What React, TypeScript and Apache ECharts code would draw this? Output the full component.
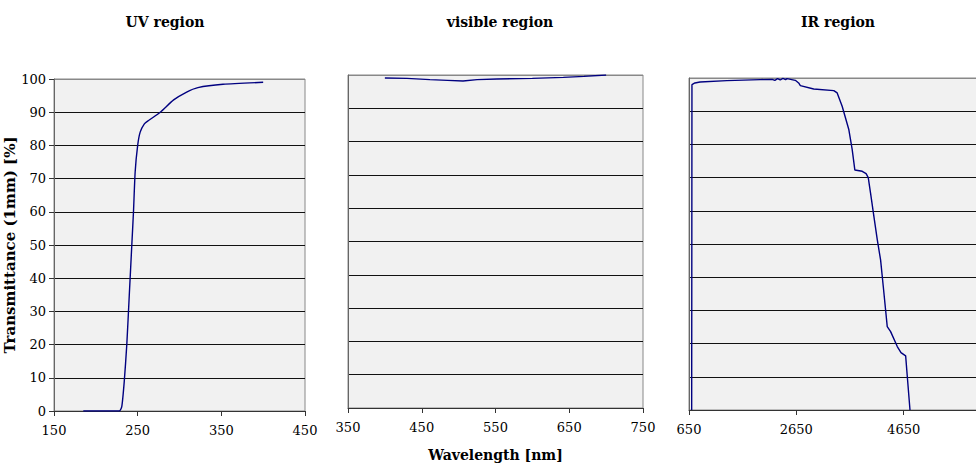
import React, { useEffect, useRef } from "react";
import * as echarts from "echarts";

const panelTitles = ["UV region", "visible region", "IR region"];
const yAxisName = "Transmittance (1mm) [%]";
const xAxisName = "Wavelength [nm]";

// [wavelength nm, transmittance %]
const uvData: [number, number][] = [
  [185, 0], [228, 0], [231, 1.3], [234, 9], [237, 20], [240, 35], [243, 50],
  [245, 60], [247, 72], [250, 80], [253, 84], [258, 86.5], [263, 87.5],
  [277, 90], [293, 93.7], [308, 96], [322, 97.4], [352, 98.4], [400, 99],
];

const visData: [number, number][] = [
  [400, 99.1], [430, 99.0], [461, 98.6], [485, 98.4], [506, 98.2], [525, 98.6],
  [552, 98.8], [600, 99.0], [642, 99.3], [670, 99.6], [700, 100],
];

const irData: [number, number][] = [
  [700, 0], [705, 98], [760, 98.5], [856, 98.8], [1355, 99.2], [1977, 99.5],
  [2200, 99.6], [2250, 99.3], [2300, 99.8], [2350, 99.4], [2400, 99.9],
  [2450, 99.5], [2476, 99.8], [2631, 99.3], [2693, 98.5], [2725, 97.7],
  [2974, 96.7], [3348, 96.2], [3411, 95.5], [3504, 91.5], [3629, 84.4],
  [3691, 78.4], [3740, 72.3], [3878, 71.9], [3950, 71.2], [3990, 70], [4033, 65.3],
  [4095, 58.3], [4158, 51.3], [4220, 45.2], [4270, 37.2], [4313, 30.2],
  [4344, 25.1], [4407, 23.6], [4531, 19.1], [4600, 17.3], [4687, 16.3],
  [4718, 10], [4768, 0],
];

const xRanges = [
  { min: 150, max: 450, interval: 100 },
  { min: 350, max: 750, interval: 100 },
  { min: 650, max: 6650, interval: 2000 },
];

const FONT = "'DejaVu Serif', 'Liberation Serif', serif";

export default function App() {
  const ref = useRef<HTMLDivElement>(null);
  useEffect(() => {
    if (!ref.current) return;
    const chart = echarts.init(ref.current, undefined, { renderer: "svg" });
    const grids = [
      { left: 54, top: 79, width: 251, height: 332 },
      { left: 348, top: 75, width: 295, height: 333 },
      { left: 689, top: 78, width: 322, height: 332 },
    ];
    const splitColors = ["#666", "#111", "#111", "#111", "#111", "#111", "#111", "#111", "#111", "#111", "#888"];
    const datas = [uvData, visData, irData];
    chart.setOption({
      animation: false,
      backgroundColor: "#ffffff",
      title: [
        { text: panelTitles[0], left: 160, top: 10, textAlign: "center" },
        { text: panelTitles[1], left: 495, top: 10, textAlign: "center" },
        { text: panelTitles[2], left: 833, top: 10, textAlign: "center" },
      ].map((t) => ({
        ...t,
        textStyle: { fontFamily: FONT, fontSize: 14, fontWeight: "bold", color: "#000" },
      })),
      grid: grids.map((g) => ({
        ...g,
        show: true,
        containLabel: false,
        outerBoundsMode: "none",
        backgroundColor: "#f1f1f1",
        borderColor: "#888",
        borderWidth: 1,
      })),
      xAxis: xRanges.map((r, i) => ({
        type: "value",
        gridIndex: i,
        min: r.min,
        max: r.max,
        interval: r.interval,
        name: i === 1 ? xAxisName : "",
        nameLocation: "middle",
        nameGap: 40,
        nameTextStyle: { fontFamily: FONT, fontSize: 14, fontWeight: "bold", color: "#000" },
        axisLine: { show: true, onZero: false, lineStyle: { color: "#333", width: 1 } },
        axisTick: { show: true, inside: false, length: 5, lineStyle: { color: "#333" } },
        axisLabel: {
          show: true,
          margin: 13,
          fontFamily: FONT,
          fontSize: 13,
          color: "#000",
          showMinLabel: true,
          showMaxLabel: i !== 2,
          formatter: (v: number) => String(v),
        },
        splitLine: { show: false },
      })),
      yAxis: [0, 1, 2].map((i) => ({
        type: "value",
        gridIndex: i,
        min: 0,
        max: 100,
        interval: 10,
        name: i === 0 ? yAxisName : "",
        nameLocation: "middle",
        nameRotate: 90,
        nameGap: 33,
        nameTextStyle: { fontFamily: FONT, fontSize: 15, fontWeight: "bold", color: "#000" },
        axisLine: { show: true, lineStyle: { color: "#666", width: 1 } },
        axisTick: { show: i === 0, inside: false, length: 5, lineStyle: { color: "#333" } },
        axisLabel: {
          show: i === 0,
          margin: 8,
          fontFamily: FONT,
          fontSize: 13,
          color: "#000",
        },
        splitLine: { show: true, lineStyle: { color: splitColors, width: 1 } },
      })),
      series: datas.map((d, i) => ({
        type: "line",
        xAxisIndex: i,
        yAxisIndex: i,
        data: d,
        showSymbol: false,
        symbol: "none",
        smooth: i === 0 ? 0.2 : false,
        lineStyle: { color: "#000080", width: 1.4 },
        silent: true,
      })),
    });
    return () => chart.dispose();
  }, []);
  return (
    <div
      ref={ref}
      style={{ position: "absolute", left: 0, top: 0, width: 976, height: 470 }}
    />
  );
}
